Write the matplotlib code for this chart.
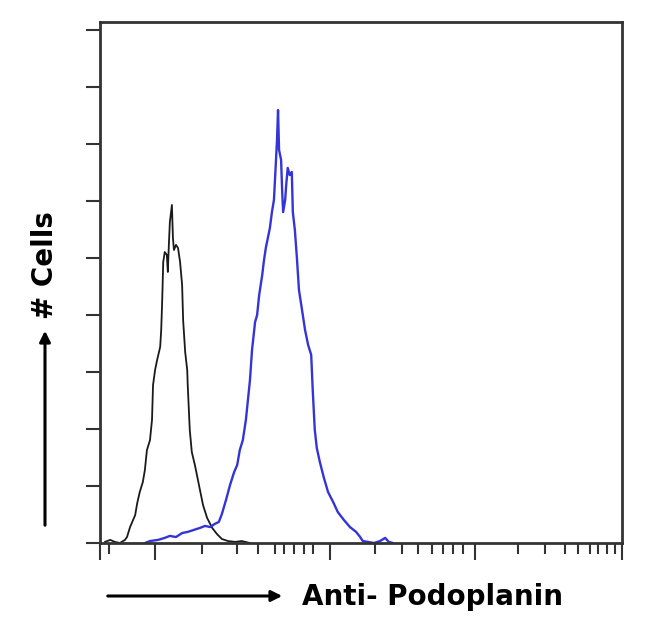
import matplotlib
matplotlib.use("Agg")
import matplotlib.pyplot as plt

# Flow histogram, channels 0-1023, counts per channel
control_channel = [10, 20, 29, 39, 49, 53, 59, 69, 73, 78, 84, 88, 92, 98, 102, 104, 108,
                   112, 118, 120, 122, 124, 127, 131, 133, 135, 137, 141, 143, 145, 149,
                   153, 157, 161, 163, 167, 171, 172, 176, 180, 186, 190, 196, 202, 210,
                   220, 229, 239, 251, 265, 278, 294]
control_count = [0.4, 1.1, 0.4, 0, 1.1, 2.1, 5.6, 9.8, 14.0, 17.9, 21.4, 25.6, 32.6, 36.1,
                 43.2, 55.4, 60.7, 64.2, 68.8, 74.7, 85.3, 98.6, 102.1, 101.1, 95.1, 104.6,
                 112.6, 118.6, 107.0, 102.8, 104.6, 103.5, 98.6, 90.5, 78.2, 67.0, 60.7,
                 55.4, 39.7, 31.9, 27.4, 23.9, 18.6, 13.3, 8.8, 5.3, 3.2, 1.4, 0.7, 0.4,
                 0.7, 0]

podo_channel = [88, 98, 114, 127, 137, 149, 161, 172, 184, 196, 206, 216, 225, 233, 239,
                247, 255, 263, 269, 274, 280, 286, 290, 294, 298, 304, 308, 312, 318, 321,
                325, 329, 333, 337, 341, 345, 347, 349, 351, 355, 357, 359, 363, 365, 368,
                372, 376, 378, 382, 386, 390, 396, 402, 408, 414, 417, 421, 425, 431, 439,
                447, 457, 466, 478, 490, 502, 510, 515, 525, 537, 549, 559, 566, 574]
podo_count = [0, 0.7, 1.1, 1.8, 2.5, 2.1, 3.5, 3.9, 4.6, 5.3, 6.0, 5.6, 6.7, 7.4, 10.2,
              15.1, 20.4, 24.9, 27.4, 32.6, 36.1, 43.2, 50.2, 57.2, 67.7, 77.5, 80.0, 87.0,
              94.0, 98.6, 103.5, 107.0, 110.5, 116.1, 120.4, 134.4, 141.4, 151.9, 137.9,
              134.4, 123.9, 116.1, 120.4, 125.6, 131.6, 129.1, 130.2, 116.1, 109.8, 100.0,
              88.8, 81.8, 74.7, 69.5, 66.0, 53.7, 39.7, 33.3, 28.4, 22.8, 17.9, 14.4, 10.9,
              8.1, 5.6, 3.9, 2.1, 0.7, 0.4, 0, 0.7, 1.8, 0.4, 0]

# axis ticks (display channels of the biexponential scale)
major_ticks = [0, 108, 451, 735, 1023]
minor_ticks = [18, 200, 268, 310, 343, 361, 380, 400, 417,
               539, 592, 623, 651, 672, 692, 711,
               819, 872, 911, 937, 960, 976, 994, 1009]
y_ticks = [0, 20, 40, 60, 80, 100, 120, 140, 160, 180]

fig = plt.figure(figsize=(6.5, 6.34), dpi=100)
ax = fig.add_axes([0.1538, 0.1435, 0.803, 0.8218])

ax.plot(control_channel, control_count, color="#1a1a1a", lw=1.3)
ax.plot(podo_channel, podo_count, color="#3434d8", lw=1.7)

ax.set_xlim(0, 1023)
ax.set_ylim(0, 182.8)
ax.set_xticks(major_ticks)
ax.set_xticks(minor_ticks, minor=True)
ax.set_yticks(y_ticks)
ax.set_xticklabels([])
ax.set_yticklabels([])
ax.tick_params(axis="x", which="major", length=12, width=1.5, color="#333333")
ax.tick_params(axis="x", which="minor", length=8, width=1.5, color="#333333")
ax.tick_params(axis="y", length=10, width=1.5, color="#333333")
for s in ax.spines.values():
    s.set_linewidth(2)
    s.set_color("#333333")

# axis captions with arrows
fig.patches.append(matplotlib.patches.FancyArrowPatch(
    (105 / 650, 1 - 596 / 634), (285 / 650, 1 - 596 / 634), transform=fig.transFigure,
    arrowstyle="-|>", mutation_scale=16, lw=2.2, color="black"))
fig.text(302 / 650, 1 - 597 / 634, "Anti- Podoplanin", fontsize=20, fontweight="bold",
         ha="left", va="center", family="DejaVu Sans")

fig.patches.append(matplotlib.patches.FancyArrowPatch(
    (45 / 650, 1 - 528 / 634), (45 / 650, 1 - 328 / 634), transform=fig.transFigure,
    arrowstyle="-|>", mutation_scale=16, lw=2.2, color="black"))
fig.text(45 / 650, 1 - 265 / 634, "# Cells", fontsize=20, fontweight="bold",
         rotation=90, ha="center", va="center", family="DejaVu Sans")

fig.savefig("out.png", dpi=100)
